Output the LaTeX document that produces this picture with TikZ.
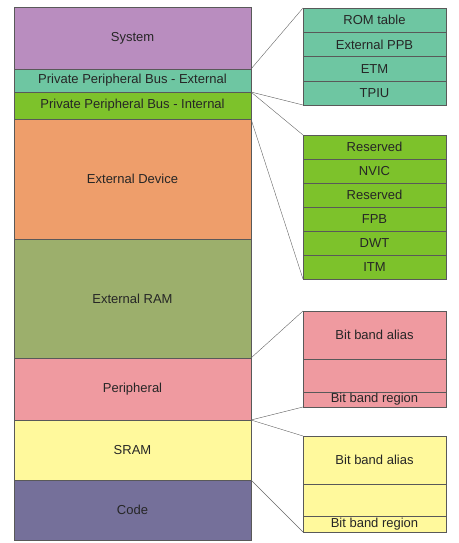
\documentclass[tikz,border=0pt]{standalone}
\usepackage{fontspec}
\setmainfont{Liberation Sans}
\usetikzlibrary{positioning}

\definecolor{sysC}{HTML}{B98DBF}
\definecolor{pbeC}{HTML}{6EC6A2}
\definecolor{pbiC}{HTML}{7DC22B}
\definecolor{devC}{HTML}{EE9E6B}
\definecolor{ramC}{HTML}{9CAF6C}
\definecolor{perC}{HTML}{EF9AA0}
\definecolor{sramC}{HTML}{FFF99C}
\definecolor{codeC}{HTML}{75709A}

\begin{document}
\begin{tikzpicture}[x=1pt,y=-1pt,
   mem/.style={draw=black!65,thin,minimum width=237pt,inner sep=0pt,outer sep=0pt,
               text=black!85,font=\fontsize{13}{14}\selectfont},
   sub/.style={draw=black!65,thin,minimum width=143pt,inner sep=0pt,outer sep=0pt,
               text=black!85,font=\fontsize{13}{14}\selectfont},
   link/.style={draw=black!60,thin}]
   \useasboundingbox (0,0) rectangle (458,543);
   % memory map
   \node[mem,fill=sysC,minimum height=62pt,anchor=north west] (sys) at (14,7) {System};
   \node[mem,fill=pbeC,minimum height=23pt,below=0pt of sys]  (pbe)  {Private Peripheral Bus - External};
   \node[mem,fill=pbiC,minimum height=27pt,below=0pt of pbe]  (pbi)  {Private Peripheral Bus - Internal};
   \node[mem,fill=devC,minimum height=120pt,below=0pt of pbi] (dev)  {External Device};
   \node[mem,fill=ramC,minimum height=119pt,below=0pt of dev] (ram)  {External RAM};
   \node[mem,fill=perC,minimum height=62pt,below=0pt of ram]  (per)  {Peripheral};
   \node[mem,fill=sramC,minimum height=60pt,below=0pt of per] (sram) {SRAM};
   \node[mem,fill=codeC,minimum height=60pt,below=0pt of sram](code) {Code};
   % PPB external
   \node[sub,fill=pbeC,minimum height=24.25pt,anchor=north west] (rom) at (303,8) {ROM table};
   \node[sub,fill=pbeC,minimum height=24.25pt,below=0pt of rom]  (xppb) {External PPB};
   \node[sub,fill=pbeC,minimum height=24.25pt,below=0pt of xppb] (etm)  {ETM};
   \node[sub,fill=pbeC,minimum height=24.25pt,below=0pt of etm]  (tpiu) {TPIU};
   % PPB internal
   \node[sub,fill=pbiC,minimum height=24pt,anchor=north west] (rsvA) at (303,135) {Reserved};
   \node[sub,fill=pbiC,minimum height=24pt,below=0pt of rsvA] (nvic) {NVIC};
   \node[sub,fill=pbiC,minimum height=24pt,below=0pt of nvic] (rsvB) {Reserved};
   \node[sub,fill=pbiC,minimum height=24pt,below=0pt of rsvB] (fpb)  {FPB};
   \node[sub,fill=pbiC,minimum height=24pt,below=0pt of fpb]  (dwt)  {DWT};
   \node[sub,fill=pbiC,minimum height=24pt,below=0pt of dwt]  (itm)  {ITM};
   % bit band, peripheral
   \node[sub,fill=perC,minimum height=48pt,anchor=north west] (perA) at (303,311) {Bit band alias};
   \node[sub,fill=perC,minimum height=33pt,below=0pt of perA] (perG) {};
   \node[sub,fill=perC,minimum height=15pt,below=0pt of perG] (perR) {Bit band region};
   % bit band, SRAM
   \node[sub,fill=sramC,minimum height=48pt,anchor=north west] (sramA) at (303,436) {Bit band alias};
   \node[sub,fill=sramC,minimum height=32pt,below=0pt of sramA] (sramG) {};
   \node[sub,fill=sramC,minimum height=16pt,below=0pt of sramG] (sramR) {Bit band region};
   % zoom lines
   \draw[link] (pbe.north east)  -- (rom.north west);
   \draw[link] (pbi.north east)  -- (tpiu.south west);
   \draw[link] (pbi.north east)  -- (rsvA.north west);
   \draw[link] (pbi.south east)  -- (itm.south west);
   \draw[link] (per.north east)  -- (perA.north west);
   \draw[link] (per.south east)  -- (perR.south west);
   \draw[link] (sram.north east) -- (sramA.north west);
   \draw[link] (sram.south east) -- (sramR.south west);
\end{tikzpicture}
\end{document}
